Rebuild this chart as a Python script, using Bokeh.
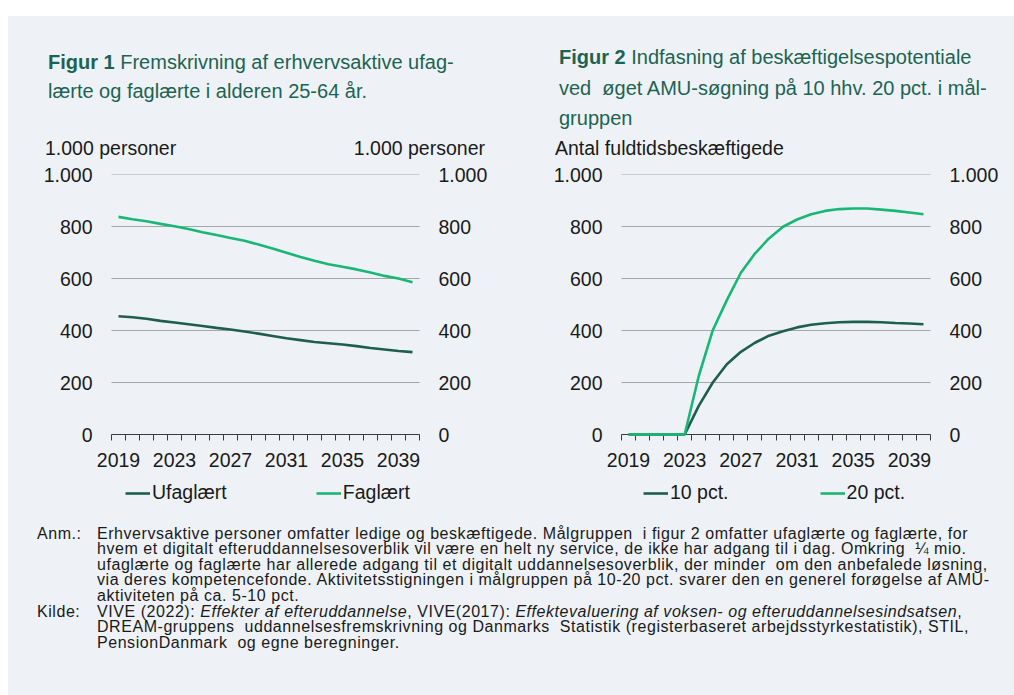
from bokeh.plotting import figure
from bokeh.models import (Range1d, LinearAxis, FixedTicker, Legend, LegendItem, Div, Spacer)
from bokeh.layouts import column, row
from bokeh.embed import file_html
from bokeh.resources import INLINE

# ---------------- data ----------------
years = list(range(2019, 2041))
ufaglaert = [455, 451, 445, 437, 431, 424, 417, 410, 404, 396, 388, 379, 370, 363,
             356, 351, 346, 340, 333, 327, 321, 317]
faglaert = [837, 828, 820, 810, 801, 790, 778, 767, 756, 745, 731, 715, 699, 683,
            668, 655, 645, 635, 623, 610, 600, 586]
pct10 = [0, 0, 0, 0, 0, 110, 200, 270, 318, 353, 380, 397, 412, 422,
         428, 432, 433, 433, 432, 429, 427, 424]
pct20 = [0, 0, 0, 0, 0, 225, 401, 517, 622, 696, 754, 799, 827, 847,
         860, 867, 869, 869, 865, 860, 854, 847]
y_ticks = [0, 200, 400, 600, 800, 1000]
y_labels = ["0", "200", "400", "600", "800", "1.000"]
x_label_years = [2019, 2023, 2027, 2031, 2035, 2039]

labels1 = ["Ufaglært", "Faglært"]
labels2 = ["10 pct.", "20 pct."]

BG = "#EEF2F6"
DARK = "#1D5E4C"
LIGHT = "#19B674"
TITLE_COL = "#1D6352"
TXT = "#1A1A1A"
FONT = "Liberation Sans"
FS = "19.5px"

# frame: 1000 units = 260 px; frame extends 82 px below zero (legend area)
Y_MIN = -1000 * 82 / 260
EXT = 17  # px of extra frame on each side (room for edge tick labels)
X0, X1 = years[0] - 0.5, years[-1] + 0.5


def make_chart(width, left, right, s1, s2, labels, leg_x, leg_spacing):
    base_w = width - left - right
    ppy = base_w / (X1 - X0)
    ext = EXT / ppy
    p = figure(width=width, height=364, output_backend="svg", toolbar_location=None,
               x_range=Range1d(X0 - ext, X1 + ext), y_range=Range1d(Y_MIN, 1000),
               min_border_left=left - EXT, min_border_right=right - EXT,
               min_border_top=14, min_border_bottom=8,
               background_fill_color=BG, border_fill_color=BG,
               outline_line_color=None)
    yt = FixedTicker(ticks=y_ticks)
    overrides = {t: l for t, l in zip(y_ticks, y_labels)}
    ya = p.yaxis[0]
    ya.ticker = yt
    ya.major_label_overrides = overrides
    ra = LinearAxis(ticker=yt, major_label_overrides=overrides)
    p.add_layout(ra, "right")
    for a in (ya, ra):
        a.axis_line_color = None
        a.major_tick_line_color = None
        a.minor_tick_line_color = None
        a.major_tick_out = 0
        a.major_tick_in = 0
        a.major_label_standoff = 19 - EXT
        a.major_label_text_font = FONT
        a.major_label_text_font_size = FS
        a.major_label_text_color = TXT
    xa = p.xaxis[0]
    xa.fixed_location = 0
    xa.bounds = (X0, X1)
    xa.ticker = FixedTicker(ticks=x_label_years,
                            minor_ticks=[X0 + i for i in range(len(years) + 1)])
    xa.major_label_overrides = {y: str(y) for y in x_label_years}
    xa.major_tick_out = 0
    xa.major_tick_in = 0
    xa.minor_tick_out = 6
    xa.minor_tick_in = 0
    xa.axis_line_color = "#3A3A3A"
    xa.minor_tick_line_color = "#3A3A3A"
    xa.axis_line_width = 1.2
    xa.major_label_standoff = 12
    xa.major_label_text_font = FONT
    xa.major_label_text_font_size = FS
    xa.major_label_text_color = TXT
    p.xgrid.visible = False
    p.ygrid.visible = False
    # horizontal gridlines limited to the category span
    p.segment(x0=[X0] * len(y_ticks), x1=[X1] * len(y_ticks), y0=y_ticks, y1=y_ticks,
              line_color="#A6A6A6", line_width=1.2)

    r1 = p.line(years, s1, line_color=DARK, line_width=2.6, level="overlay")
    r2 = p.line(years, s2, line_color=LIGHT, line_width=2.6, level="overlay")

    leg = Legend(items=[LegendItem(label=labels[0], renderers=[r1]),
                        LegendItem(label=labels[1], renderers=[r2])],
                 orientation="horizontal", location=(leg_x + EXT, 12),
                 spacing=leg_spacing, glyph_width=25, glyph_height=20, label_standoff=2,
                 padding=0, margin=0, background_fill_alpha=0,
                 border_line_alpha=0, label_text_font=FONT,
                 label_text_font_size=FS, label_text_color=TXT)
    p.add_layout(leg, "center")
    return p


p1 = make_chart(502, 103, 91, ufaglaert, faglaert, labels1, 14, 89)
p2 = make_chart(504, 111, 84, pct10, pct20, labels2, 22, 91)

tstyle = f"font-family:'{FONT}';font-size:20px;color:{TITLE_COL};white-space:nowrap;"
ustyle = f"font-family:'{FONT}';font-size:{FS};color:{TXT};white-space:nowrap;line-height:22px;"

t1_html = (
    f'<div style="position:relative;width:502px;height:144px;">'
    f'<div style="position:absolute;left:40px;top:32px;line-height:29px;{tstyle}">'
    f'<b>Figur 1</b> Fremskrivning af erhvervsaktive ufag-<br>'
    f'lærte og faglærte i alderen 25-64 år.</div>'
    f'<div style="position:absolute;left:37px;top:121px;{ustyle}">1.000 personer</div>'
    f'<div style="position:absolute;right:25px;top:121px;{ustyle}">1.000 personer</div>'
    f'</div>'
)
t2_html = (
    f'<div style="position:relative;width:504px;height:144px;">'
    f'<div style="position:absolute;left:49px;top:26px;line-height:30.5px;{tstyle}">'
    f'<b>Figur 2</b> Indfasning af beskæftigelsespotentiale<br>'
    f'ved&nbsp; øget AMU-søgning på 10 hhv. 20 pct. i mål-<br>'
    f'gruppen</div>'
    f'<div style="position:absolute;left:45px;top:121px;{ustyle}">Antal fuldtidsbeskæftigede</div>'
    f'</div>'
)

t1 = Div(text=t1_html, width=502, height=144, margin=(0, 0, 0, 0),
         styles={"background-color": BG})
t2 = Div(text=t2_html, width=504, height=144, margin=(0, 0, 0, 0),
         styles={"background-color": BG})

nstyle = (f"font-family:'{FONT}';font-size:16px;letter-spacing:0.55px;color:{TXT};"
          f"white-space:nowrap;line-height:15.4px;")
anm_lines = [
    "Erhvervsaktive personer omfatter ledige og beskæftigede. Målgruppen&nbsp; i figur 2 omfatter ufaglærte og faglærte, for",
    "hvem et digitalt efteruddannelsesoverblik vil være en helt ny service, de ikke har adgang til i dag. Omkring&nbsp; ¼ mio.",
    "ufaglærte og faglærte har allerede adgang til et digitalt uddannelsesoverblik, der minder&nbsp; om den anbefalede løsning,",
    "via deres kompetencefonde. Aktivitetsstigningen i målgruppen på 10-20 pct. svarer den en generel forøgelse af AMU-",
    "aktiviteten på ca. 5-10 pct.",
]
kilde_lines = [
    "VIVE (2022): <i>Effekter af efteruddannelse</i>, VIVE(2017): <i>Effektevaluering af voksen- og efteruddannelsesindsatsen</i>,",
    "DREAM-gruppens&nbsp; uddannelsesfremskrivning og Danmarks&nbsp; Statistik (registerbaseret arbejdsstyrkestatistik), STIL,",
    "PensionDanmark&nbsp; og egne beregninger.",
]
notes_html = (
    f'<div style="position:relative;width:1006px;height:171px;{nstyle}">'
    f'<div style="position:absolute;left:29px;top:2px;">Anm.:</div>'
    f'<div style="position:absolute;left:89px;top:2px;">{"<br>".join(anm_lines)}</div>'
    f'<div style="position:absolute;left:29px;top:80px;">Kilde:</div>'
    f'<div style="position:absolute;left:89px;top:80px;">{"<br>".join(kilde_lines)}</div>'
    f'</div>'
)
notes = Div(text=notes_html, width=1006, height=171, margin=(0, 0, 0, 0),
            styles={"background-color": BG})

panel = column(row(column(t1, p1), column(t2, p2)), notes,
               styles={"background-color": BG})
root = column(Spacer(width=1014, height=16), row(Spacer(width=8, height=10), panel))

open("out.html", "w").write(file_html(root, INLINE))
